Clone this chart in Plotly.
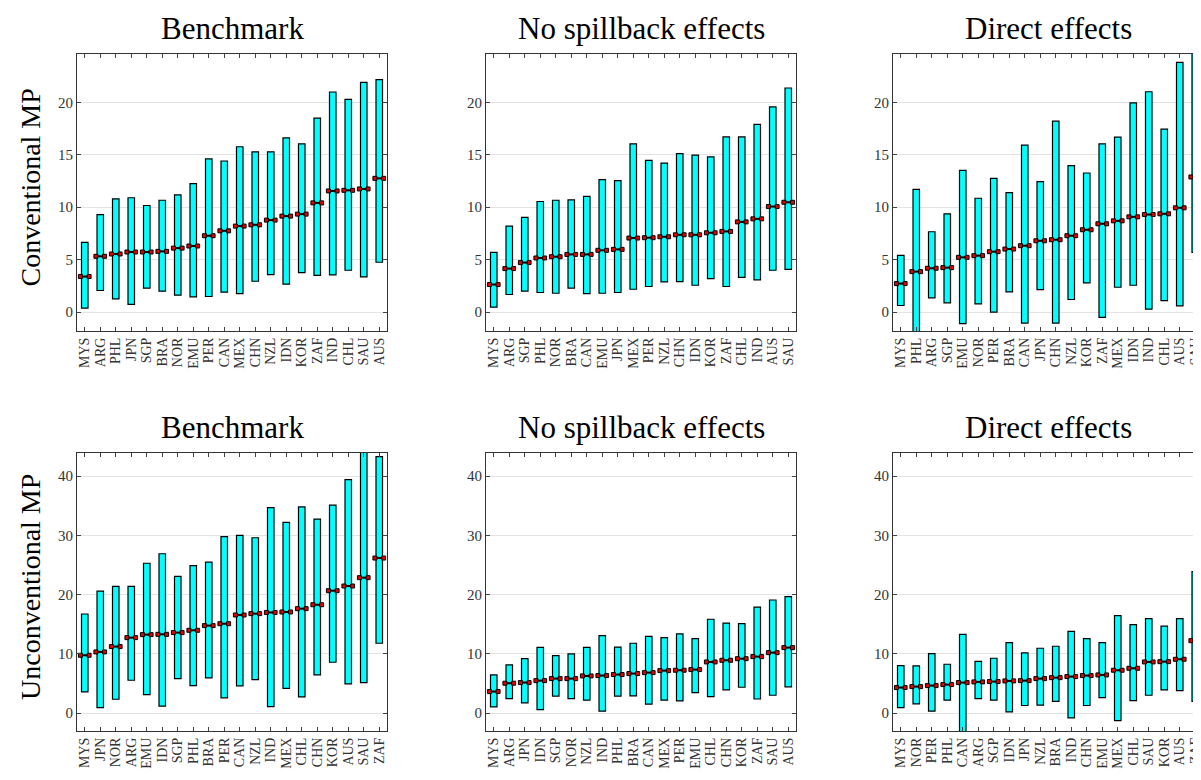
import plotly.graph_objects as go

# ---------------- data ----------------
c1 = ["MYS","ARG","PHL","JPN","SGP","BRA","NOR","EMU","PER","CAN","MEX","CHN","NZL","IDN","KOR","ZAF","IND","CHL","SAU","AUS"]
lo1 = [0.38,2.06,1.27,0.73,2.28,2.0,1.61,1.46,1.49,1.9,1.77,2.94,3.58,2.66,3.77,3.51,3.54,3.99,3.35,4.75]
hi1 = [6.65,9.3,10.8,10.9,10.16,10.66,11.17,12.25,14.6,14.4,15.76,15.28,15.28,16.6,16.04,18.48,20.98,20.28,21.9,22.15]
md1 = [3.39,5.32,5.54,5.73,5.73,5.79,6.1,6.3,7.28,7.75,8.2,8.32,8.77,9.15,9.34,10.41,11.55,11.61,11.74,12.75]

c2 = ["MYS","ARG","SGP","PHL","NOR","BRA","CAN","EMU","JPN","MEX","PER","NZL","CHN","IDN","KOR","ZAF","CHL","IND","AUS","SAU"]
lo2 = [0.47,1.68,2.0,1.87,1.8,2.28,1.77,1.8,1.87,2.18,2.44,2.88,2.91,2.56,3.2,2.44,3.32,3.07,3.99,4.08]
hi2 = [5.7,8.2,9.02,10.54,10.66,10.7,11.04,12.63,12.53,16.04,14.46,14.2,15.1,14.97,14.8,16.7,16.7,17.9,19.56,21.36]
md2 = [2.63,4.15,4.72,5.16,5.28,5.5,5.5,5.89,5.98,7.06,7.09,7.18,7.37,7.37,7.56,7.69,8.6,8.89,10.06,10.47]

c3 = ["MYS","PHL","ARG","SGP","EMU","NOR","PER","BRA","CAN","JPN","CHN","NZL","KOR","ZAF","MEX","IDN","IND","CHL","AUS","SAU"]
lo3 = [0.63,-2.5,1.36,0.89,-1.1,0.79,0.0,1.93,-1.04,2.15,-1.04,1.2,2.78,-0.5,2.37,2.56,0.28,1.1,0.6,5.7]
hi3 = [5.41,11.7,7.66,9.37,13.5,10.85,12.75,11.39,15.92,12.44,18.2,13.96,13.26,16.04,16.68,19.94,21.0,17.44,23.8,25.5]
md3 = [2.72,3.86,4.18,4.24,5.22,5.38,5.76,6.01,6.33,6.8,6.9,7.28,7.85,8.42,8.7,9.08,9.3,9.37,9.94,12.88]

c4 = ["MYS","JPN","NOR","ARG","EMU","IDN","SGP","PHL","BRA","PER","CAN","NZL","IND","MEX","CHL","CHN","KOR","AUS","SAU","ZAF"]
lo4 = [3.6,0.96,2.36,5.56,3.15,1.18,5.84,4.66,5.96,2.58,4.6,5.67,1.12,4.2,2.75,6.46,8.6,4.94,5.17,11.8]
hi4 = [16.74,20.6,21.4,21.4,25.3,26.9,23.1,24.9,25.5,29.8,30.0,29.6,34.7,32.2,34.8,32.75,35.1,39.4,45.0,43.3]
md4 = [9.78,10.34,11.24,12.75,13.26,13.31,13.6,13.99,14.78,15.1,16.57,16.8,17.0,17.08,17.64,18.3,20.67,21.46,22.87,26.18]

c5 = ["MYS","ARG","JPN","IDN","SGP","NOR","NZL","IND","PHL","BRA","CAN","MEX","PER","EMU","CHL","CHN","KOR","ZAF","SAU","AUS"]
lo5 = [1.07,2.47,1.74,0.62,2.87,2.47,2.2,0.34,2.87,2.92,1.52,2.2,2.08,3.48,2.8,3.93,4.38,2.4,3.03,4.44]
hi5 = [6.46,8.15,9.2,11.1,9.72,10.0,11.1,13.1,11.16,11.8,12.97,12.75,13.4,12.6,15.85,15.2,15.1,17.9,19.1,19.66]
md5 = [3.65,5.06,5.17,5.5,5.84,5.84,6.29,6.35,6.52,6.69,6.85,7.19,7.25,7.36,8.65,8.93,9.2,9.55,10.22,11.07]

c6 = ["MYS","NOR","PER","PHL","CAN","ARG","SGP","IDN","JPN","NZL","BRA","IND","CHN","EMU","MEX","CHL","SAU","KOR","AUS","ZAF"]
lo6 = [0.96,1.57,0.34,2.2,-3.5,2.47,2.2,0.22,1.3,1.35,2.0,-0.8,1.3,2.64,-1.24,2.13,3.03,3.93,3.82,2.0]
hi6 = [8.03,7.98,10.06,8.26,13.3,8.76,9.27,11.9,10.17,10.96,11.3,13.8,12.6,11.9,16.46,14.94,15.96,14.7,15.96,23.9]
md6 = [4.33,4.49,4.66,4.83,5.17,5.28,5.34,5.45,5.5,5.84,6.0,6.18,6.35,6.46,7.25,7.58,8.65,8.7,9.1,12.24]

col_titles = ["Benchmark", "No spillback effects", "Direct effects"]
row_titles = ["Conventional MP", "Unconventional MP"]

panels = [(c1, lo1, hi1, md1), (c2, lo2, hi2, md2), (c3, lo3, hi3, md3),
          (c4, lo4, hi4, md4), (c5, lo5, hi5, md5), (c6, lo6, hi6, md6)]

# ---------------- layout ----------------
W, H = 1201, 780
OFF = 8  # page body margin
xpix = [(77 - OFF, 387 - OFF), (486 - OFF, 796 - OFF), (893 - OFF, 1203 - OFF)]
ypix = [(54 - OFF, 331 - OFF), (453 - OFF, 731 - OFF)]
yranges = [[-1.8, 24.6], [-3.0, 43.9]]
ytv = [[0, 5, 10, 15, 20], [0, 10, 20, 30, 40]]
FONT = "Liberation Serif"

fig = go.Figure()
for k, (cats, lo, hi, md) in enumerate(panels):
    r, c = divmod(k, 3)
    ax = "" if k == 0 else str(k + 1)
    xs = list(range(len(cats)))
    fig.add_trace(go.Bar(
        x=xs, y=[h - l for h, l in zip(hi, lo)], base=lo, width=0.42,
        marker=dict(color="#00FFFF", line=dict(color="black", width=1.2)),
        xaxis="x" + ax, yaxis="y" + ax, showlegend=False, hoverinfo="skip"))
    mx, my = [], []
    for i, m in enumerate(md):
        mx += [i - 0.28, i + 0.28, None]
        my += [m, m, None]
    fig.add_trace(go.Scatter(
        x=mx, y=my, mode="lines+markers",
        line=dict(color="black", width=2),
        marker=dict(symbol="square", size=4, color="#E00000", line=dict(color="black", width=1)),
        xaxis="x" + ax, yaxis="y" + ax, showlegend=False, hoverinfo="skip"))
    x0, x1 = xpix[c]
    y0, y1 = ypix[r]
    fig.layout["xaxis" + ax] = dict(
        domain=[x0 / W, x1 / W], anchor="y" + ax, range=[-0.5, 19.5],
        tickvals=xs, ticktext=cats, tickangle=-90, ticks="inside", ticklen=4,
        showline=True, linecolor="#333", linewidth=1, mirror="ticks",
        showgrid=False, zeroline=False,
        tickfont=dict(family=FONT, size=14, color="#333"))
    fig.layout["yaxis" + ax] = dict(
        domain=[1 - y1 / H, 1 - y0 / H], anchor="x" + ax, range=yranges[r],
        tickvals=ytv[r], ticks="inside", ticklen=4,
        showline=True, linecolor="#333", linewidth=1, mirror="ticks",
        showgrid=True, gridcolor="#e3e3e3", zeroline=False,
        tickfont=dict(family=FONT, size=15, color="#333"))
    fig.add_annotation(text=col_titles[c], x=(x0 + x1) / 2 / W, y=1 - (y0 - 26) / H,
                       xref="paper", yref="paper", showarrow=False,
                       xanchor="center", yanchor="middle",
                       font=dict(family=FONT, size=31, color="black"))

for r in range(2):
    y0, y1 = ypix[r]
    fig.add_annotation(text=row_titles[r], x=(30 - OFF) / W, y=1 - ((y0 + y1) / 2 - 5) / H,
                       xref="paper", yref="paper", showarrow=False, textangle=-90,
                       xanchor="center", yanchor="middle",
                       font=dict(family=FONT, size=28, color="black"))

fig.update_layout(width=W, height=H, margin=dict(l=0, r=0, t=0, b=0),
                  plot_bgcolor="white", paper_bgcolor="white", barmode="overlay")
fig.write_html("out.html")
